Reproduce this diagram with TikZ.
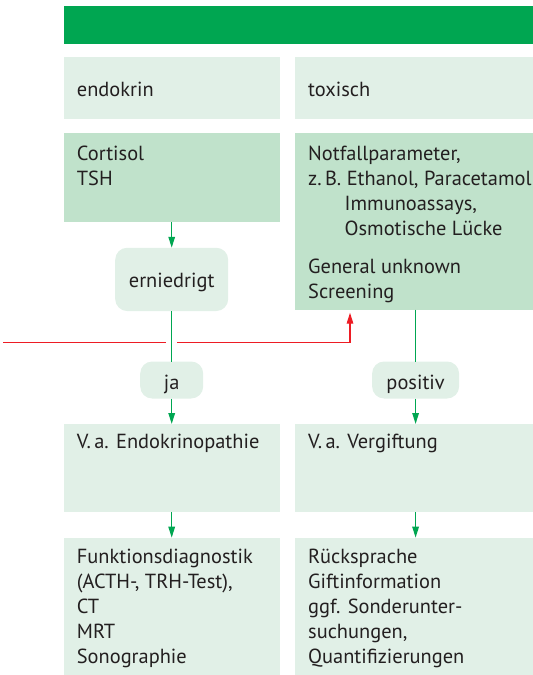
\documentclass[tikz,border=0pt]{standalone}
\usepackage{fontspec}
\setmainfont{PT Sans}
\usetikzlibrary{arrows.meta}

\definecolor{barGreen}{RGB}{0,166,81}
\definecolor{paleGreen}{RGB}{225,240,231}
\definecolor{midGreen}{RGB}{192,226,203}
\definecolor{flowGreen}{RGB}{0,166,81}
\definecolor{alertRed}{RGB}{237,28,36}
\definecolor{ink}{RGB}{35,31,32}

% stacked lines whose first baseline is the node baseline
\newcommand\txtlines[1]{\begin{tabular}[t]{@{}l@{}}#1\end{tabular}}

\begin{document}
\begin{tikzpicture}[x=1pt,y=-1pt,
  panel/.style={anchor=north west, inner sep=0pt, outer sep=0pt, fill=#1},
  pill/.style={inner sep=0pt, outer sep=0pt, fill=paleGreen, rounded corners=12pt},
  txt/.style={inner sep=0pt, text=ink, font=\fontsize{20.4}{25}\selectfont},
  flow/.style={draw=flowGreen, line width=1.4pt},
  flowarrow/.style={flow, -{Triangle[length=11pt,width=6.5pt]}},
  alert/.style={draw=alertRed, line width=1.4pt},
]
\useasboundingbox (0,0) rectangle (533,675);

% header bar
\node[panel=barGreen, minimum width=469.5pt, minimum height=38.6pt] (bar) at (63.5,5.7) {};

% column heads
\node[panel=paleGreen, minimum width=216.5pt, minimum height=62.6pt] (endo) at (63.5,56.7) {};
\node[panel=paleGreen, minimum width=238pt, minimum height=62.6pt] (tox) at (295,56.7) {};
\node[txt, anchor=base west] (endoT) at (76.7,96) {endokrin};
\node[txt, anchor=base west] (toxT) at (308,96) {toxisch};

% first tests
\node[panel=midGreen, minimum width=216.5pt, minimum height=89.3pt] (cort) at (63.5,132.7) {};
\node[panel=midGreen, minimum width=238pt, minimum height=177pt] (notf) at (295,132.7) {};
\node[txt, anchor=base west] (cortT) at (76.7,160) {\txtlines{Cortisol\\TSH}};
\node[txt, anchor=base west] (notfT) at (308,160) {\txtlines{Notfallparameter,\\
  z.\,B. Ethanol, Paracetamol\\
  \hspace{36.5pt}Immunoassays,\\
  \hspace{36.5pt}Osmotische Lücke\\[13pt]
  General unknown\\
  Screening}};

% decisions
\node[pill, minimum width=113pt, minimum height=63.3pt] (low) at (171.7,279.4) {};
\node[txt, anchor=base] (lowT) at (low.center |- 0,287) {erniedrigt};
\node[pill, minimum width=63pt, minimum height=37pt] (yes) at (171.7,380) {};
\node[txt, anchor=base] (yesT) at (yes.center |- 0,389) {ja};
\node[pill, minimum width=87pt, minimum height=37pt] (pos) at (415.6,380) {};
\node[txt, anchor=base] (posT) at (pos.center |- 0,389) {positiv};

% suspected diagnoses
\node[panel=paleGreen, minimum width=216.5pt, minimum height=88pt] (endoVa) at (63.5,424) {};
\node[panel=paleGreen, minimum width=238pt, minimum height=88pt] (toxVa) at (295,424) {};
\node[txt, anchor=base west] (endoVaT) at (76.7,448.5) {V.\,a. Endokrinopathie};
\node[txt, anchor=base west] (toxVaT) at (308,448.5) {V.\,a. Vergiftung};

% further work-up
\node[panel=paleGreen, minimum width=216.5pt, minimum height=137.3pt] (endoDx) at (63.5,537.7) {};
\node[panel=paleGreen, minimum width=238pt, minimum height=137.3pt] (toxDx) at (295,537.7) {};
\node[txt, anchor=base west] (endoDxT) at (76.7,563) {\txtlines{Funktionsdiagnostik\\
  (ACTH-, TRH-Test),\\ CT\\ MRT\\ Sonographie}};
\node[txt, anchor=base west] (toxDxT) at (308,563) {\txtlines{Rücksprache\\
  Giftinformation\\ ggf. Sonderunter-\\ suchungen,\\ Quantifizierungen}};

% left branch
\draw[flowarrow] (low.center |- cort.south) -- (low.north);
\draw[flow] (low.south) -- (yes.north);
\draw[flowarrow] (yes.south) -- (yes.center |- endoVa.north);
\draw[flowarrow] (yes.center |- endoVa.south) -- (yes.center |- endoDx.north);

% right branch
\draw[flow] (pos.center |- notf.south) -- (pos.north);
\draw[flowarrow] (pos.south) -- (pos.center |- toxVa.north);
\draw[flowarrow] (pos.center |- toxVa.south) -- (pos.center |- toxDx.north);

% incoming line, interrupted where it crosses the left branch
\coordinate (inStart) at (3,342.3);
\coordinate (gapL) at ([xshift=-5.5pt]yes.center |- inStart);
\coordinate (gapR) at ([xshift=5.5pt]yes.center |- inStart);
\coordinate (bend) at (350,342.3);
\draw[alert] (inStart) -- (gapL);
\draw[alert, -{Triangle[length=11pt,width=6.5pt]}, shorten >=3pt]
  (gapR) -- (bend) -- (bend |- notf.south);
\end{tikzpicture}
\end{document}
